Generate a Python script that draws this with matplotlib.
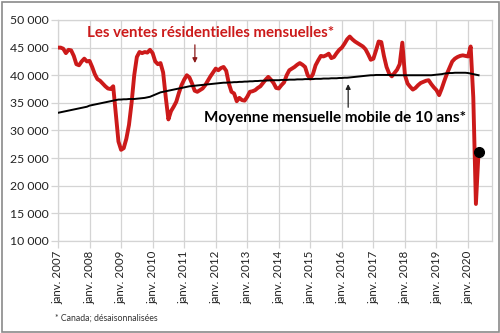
import matplotlib
matplotlib.use("Agg")
import matplotlib.pyplot as plt
from matplotlib.patches import Rectangle

plt.rcParams['font.family'] = ['Lato', 'DejaVu Sans']

start_year = 2007
ventes = [
    # 2007
    45000, 45000, 44800, 44000, 44600, 44500, 43500, 42000, 41800, 42500, 43000, 42500,
    # 2008
    42600, 41500, 40200, 39300, 39000, 38500, 38000, 37600, 37500, 38000, 33000, 28000,
    # 2009
    26500, 26800, 28500, 31000, 35000, 40000, 43300, 44200, 44000, 44200, 44100, 44600,
    # 2010
    44000, 42500, 42000, 42200, 40500, 36000, 32000, 33500, 34300, 35200, 36800, 38200,
    # 2011
    39200, 40000, 39600, 38500, 37200, 37000, 37300, 37600, 38200, 39000, 39800, 40500,
    # 2012
    41200, 40900, 41300, 41500, 40800, 38500, 37000, 36700, 35300, 35900, 35500, 35400,
    # 2013
    36100, 37000, 37100, 37300, 37700, 38000, 38600, 39200, 39700, 39200, 38600, 37700,
    # 2014
    37600, 38200, 38700, 40000, 40900, 41200, 41500, 41900, 42200, 41900, 41500, 40000,
    # 2015
    39400, 40200, 41800, 42700, 43500, 43400, 43600, 43900, 43100, 43300, 44000, 44600,
    # 2016
    45000, 45700, 46500, 47000, 46500, 46100, 45800, 45500, 45200, 44700, 43800, 42800,
    # 2017
    43000, 44500, 46100, 46000, 43500, 41500, 40300, 39800, 40400, 41000, 42000, 45900,
    # 2018
    40000, 38500, 37900, 37400, 37700, 38200, 38600, 38800, 39000, 39100, 38400, 37800,
    # 2019
    37300, 36400, 37600, 39000, 40300, 41400, 42500, 43000, 43300, 43500, 43600, 43500,
    # 2020
    43400, 45200, 36000, 16700, 26100,
]

moyenne = [
    33200, 33300, 33400, 33500, 33600, 33700, 33800, 33900, 34000, 34100, 34200, 34300,
    34500, 34600, 34700, 34800, 34900, 35000, 35100, 35200, 35300, 35400, 35500, 35600,
    35600, 35650, 35650, 35700, 35700, 35700, 35750, 35800, 35850, 35900, 36000, 36100,
    36300, 36500, 36700, 36900, 37000, 37100, 37200, 37300, 37400, 37500, 37600, 37700,
    37800, 37900, 38000, 38050, 38100, 38150, 38200, 38250, 38300, 38350, 38400, 38450,
    38500, 38550, 38600, 38650, 38650, 38700, 38700, 38750, 38750, 38800, 38800, 38850,
    38850, 38900, 38900, 38950, 38950, 39000, 39000, 39050, 39050, 39100, 39100, 39100,
    39100, 39150, 39150, 39150, 39200, 39200, 39200, 39250, 39250, 39250, 39300, 39300,
    39300, 39300, 39350, 39350, 39350, 39400, 39400, 39400, 39450, 39450, 39450, 39500,
    39500, 39550, 39550, 39600, 39650, 39700, 39750, 39800, 39850, 39900, 39950, 40000,
    40000, 40050, 40050, 40050, 40050, 40050, 40050, 40000, 40000, 40000, 40000, 40000,
    40000, 40000, 40000, 40000, 40000, 40000, 40000, 40000, 40000, 40000, 40000, 40050,
    40100, 40150, 40200, 40300, 40350, 40400, 40400, 40450, 40450, 40450, 40450, 40450,
    40400, 40300, 40200, 40100, 40000,
]

tick_years = list(range(2007, 2021))
tick_labels = [f"janv. {y}" for y in tick_years]
y_ticks = [10000, 15000, 20000, 25000, 30000, 35000, 40000, 45000, 50000]
y_labels = ["10 000", "15 000", "20 000", "25 000", "30 000", "35 000", "40 000", "45 000", "50 000"]

x_v = [start_year + i / 12 for i in range(len(ventes))]
x_m = [start_year + i / 12 for i in range(len(moyenne))]

fig = plt.figure(figsize=(5.0, 3.33), dpi=100)
ax = fig.add_axes([0.116, 0.2763, 0.868, 0.6637])

red = '#cc1a1a'
ax.plot(x_v, ventes, color=red, lw=2.8, solid_joinstyle='round', zorder=3)
ax.plot(x_m, moyenne, color='black', lw=1.4, zorder=4)
ax.plot([x_v[-1]], [ventes[-1]], 'o', color='black', ms=7, zorder=5)

ax.set_xlim(2007, 2020.76)
ax.set_ylim(10000, 50000)
ax.set_xticks(tick_years)
ax.set_xticklabels(tick_labels, rotation=90, fontsize=8.3, color='#222222')
ax.set_yticks(y_ticks)
ax.set_yticklabels(y_labels, fontsize=8.8, color='#222222')
ax.grid(True, color='#d4d4d4', lw=0.9)
ax.set_axisbelow(True)
for s in ax.spines.values():
    s.set_color('#d4d4d4')
    s.set_linewidth(0.9)
ax.tick_params(axis='both', color='#d4d4d4', length=5, width=0.9, pad=2)

ax.text(2007.92, 47650, "Les ventes résidentielles mensuelles*", color=red,
        fontsize=10.8, fontweight='bold', ha='left', va='center')
ax.annotate("", xy=(2011.34, 41700), xytext=(2011.34, 46000),
            arrowprops=dict(arrowstyle='-|>', color='#8b1a1a', lw=0.9, mutation_scale=7))
ax.text(2011.62, 32300, "Moyenne mensuelle mobile de 10 ans*", color='black',
        fontsize=11.0, fontweight='bold', ha='left', va='center')
ax.annotate("", xy=(2016.2, 38900), xytext=(2016.2, 33700),
            arrowprops=dict(arrowstyle='-|>', color='#222222', lw=0.9, mutation_scale=7))

fig.text(0.11, 0.045, "* Canada; désaisonnalisées", fontsize=6.3, color='#333333',
         ha='left', va='center')

fig.patches.append(Rectangle((0.003, 0.004), 0.994, 0.99, transform=fig.transFigure,
                             fill=False, edgecolor='#8a8a8a', lw=1.2))

fig.savefig("out.png", dpi=100)
